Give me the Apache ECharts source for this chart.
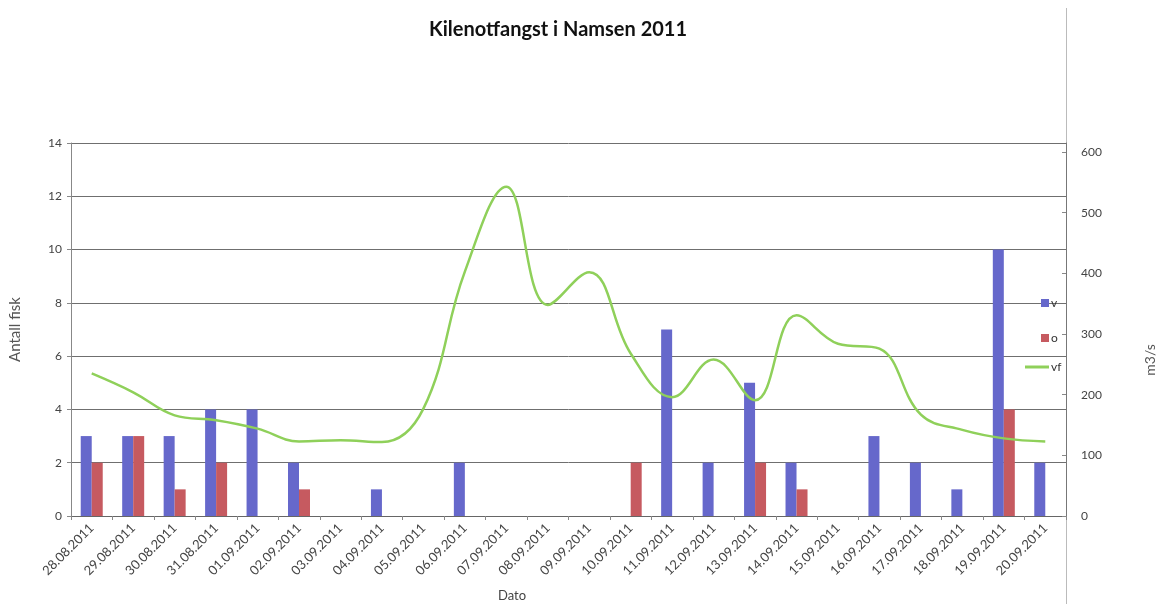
<!DOCTYPE html>
<html>
<head>
<meta charset="utf-8">
<script src="https://cdn.jsdelivr.net/npm/echarts@6/dist/echarts.min.js"></script>
<style>
html,body{margin:0;padding:0;background:#fff;}
#chart{width:1160px;height:604px;}
</style>
</head>
<body>
<div id="chart"></div>
<script>
const categories = ['28.08.2011','29.08.2011','30.08.2011','31.08.2011','01.09.2011','02.09.2011','03.09.2011','04.09.2011','05.09.2011','06.09.2011','07.09.2011','08.09.2011','09.09.2011','10.09.2011','11.09.2011','12.09.2011','13.09.2011','14.09.2011','15.09.2011','16.09.2011','17.09.2011','18.09.2011','19.09.2011','20.09.2011'];
const vValues = [3,3,3,4,4,2,0,1,0,2,0,0,0,0,7,2,5,2,0,3,2,1,10,2];
const oValues = [2,3,1,2,0,1,0,0,0,0,0,0,0,2,0,0,2,1,0,0,0,0,4,0];
const vfValues = [235,204,166,158,144,123,125,122,177,403,543,348,402,268,196,258,191,331,284,276,167,142,128,123];
const leftTicks = {min:0, max:14, interval:2};
const rightTicks = {min:0, max:615, interval:100};

const FONT = 'Lato, "Open Sans", sans-serif';
const chart = echarts.init(document.getElementById('chart'));
chart.setOption({
  backgroundColor:'#ffffff',
  animation:false,
  title:{
    text:'Kilenotfangst i Namsen 2011',
    left:553, top:15, textAlign:'center',
    textStyle:{fontFamily:FONT, fontWeight:'bold', fontSize:20, color:'#111'}
  },
  grid:{left:70, right:94, top:143, bottom:88, containLabel:false},
  legend:[
    {
      orient:'vertical', left:1036, top:292, itemWidth:8, itemHeight:8, itemGap:23,
      data:['v','o'], icon:'rect',
      textStyle:{fontFamily:FONT, fontSize:12, color:'#333', padding:[0,0,0,-3]}
    },
    {
      orient:'vertical', left:1020, top:356, itemWidth:24, itemHeight:3,
      data:['vf'], icon:'rect',
      textStyle:{fontFamily:FONT, fontSize:12, color:'#333', padding:[0,0,0,-3]}
    }
  ],
  xAxis:{
    type:'category', data:categories, boundaryGap:true,
    axisLine:{lineStyle:{color:'#666', width:1}},
    axisTick:{show:true, interval:0, length:4, lineStyle:{color:'#888'}},
    axisLabel:{interval:0, rotate:45, margin:10, fontFamily:FONT, fontSize:13, color:'#444'}
  },
  yAxis:[
    {
      type:'value', min:leftTicks.min, max:leftTicks.max, interval:leftTicks.interval,
      name:'Antall fisk', nameLocation:'middle', nameGap:48,
      nameTextStyle:{fontFamily:FONT, fontSize:15, color:'#555'},
      axisLine:{show:true, lineStyle:{color:'#888'}},
      axisTick:{show:true, length:4, lineStyle:{color:'#888'}},
      axisLabel:{fontFamily:FONT, fontSize:12, color:'#444', margin:9},
      splitLine:{show:true, lineStyle:{color:'#6f6f6f', width:1}}
    },
    {
      type:'value', min:rightTicks.min, max:rightTicks.max, interval:rightTicks.interval,
      position:'right',
      axisLine:{show:true, lineStyle:{color:'#777'}},
      axisTick:{show:true, length:4, inside:true, lineStyle:{color:'#888'}},
      axisLabel:{fontFamily:FONT, fontSize:12, color:'#444', margin:15, showMaxLabel:false},
      splitLine:{show:false}
    }
  ],
  graphic:[
    {type:'line', shape:{x1:1066.5, y1:8, x2:1066.5, y2:143}, style:{stroke:'#bbb', lineWidth:1}, silent:true},
    {type:'line', shape:{x1:1066.5, y1:516, x2:1066.5, y2:604}, style:{stroke:'#bbb', lineWidth:1}, silent:true},
    {type:'text', x:498, y:589, style:{text:'Dato', fontFamily:FONT, fontSize:13, fill:'#444'}},
    {type:'text', x:1150, y:360, rotation:Math.PI/2,
      style:{text:'m3/s', fontFamily:FONT, fontSize:14, fill:'#555', textAlign:'center', textVerticalAlign:'middle'}}
  ],
  series:[
    {name:'v', type:'bar', data:vValues, barWidth:11, barGap:'0%', itemStyle:{color:'#6668cb'}},
    {name:'o', type:'bar', data:oValues, barWidth:11, itemStyle:{color:'#c65a60'}},
    {name:'vf', type:'line', yAxisIndex:1, data:vfValues, smooth:0.4, showSymbol:false,
      itemStyle:{color:'#8fd05a'}, lineStyle:{color:'#8fd05a', width:2.5}}
  ]
});
</script>
</body>
</html>
